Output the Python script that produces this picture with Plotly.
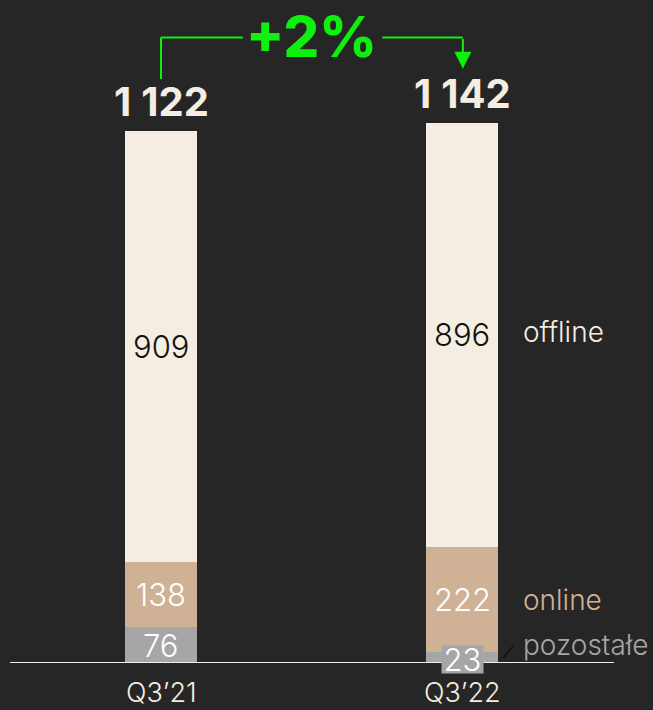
import plotly.graph_objects as go

categories = ["Q3’21", "Q3’22"]
pozostale = [76, 23]
online = [138, 222]
offline = [909, 896]
totals_labels = ["1\u2005122", "1\u2005142"]
change_label = "+2%"
series_names = ["pozostałe", "online", "offline"]

BG = "#262626"
CREAM = "#f5ede1"
TAN = "#cfb296"
GREY = "#a6a6a6"
GREEN = "#0ff00f"
FONT = "Inter"
LIGHT = 300

x = [0, 1]
W = 0.236

fig = go.Figure()
fig.add_trace(go.Bar(x=x, y=pozostale, width=W, marker=dict(color=GREY, line=dict(width=0)),
                     name=series_names[0], showlegend=False, hoverinfo="skip"))
fig.add_trace(go.Bar(x=x, y=online, width=W, marker=dict(color=TAN, line=dict(width=0)),
                     name=series_names[1], showlegend=False, hoverinfo="skip"))
fig.add_trace(go.Bar(x=x, y=offline, width=W, marker=dict(color=CREAM, line=dict(width=0)),
                     name=series_names[2], showlegend=False, hoverinfo="skip"))


def f(size, color, weight=LIGHT):
    return dict(family=FONT, size=size, color=color, weight=weight)


NUM = 31
ann = []
for i in range(2):
    if i == 0:
        ann.append(dict(x=x[i], y=pozostale[i] / 2, text=str(pozostale[i]), showarrow=False,
                        font=f(NUM, "white")))
    else:
        ann.append(dict(x=x[i], y=pozostale[i] / 2 - 4, text=str(pozostale[i]), showarrow=False,
                        font=f(NUM, "white"), bgcolor=GREY,
                        borderpad=0, width=41, height=27))
    ann.append(dict(x=x[i], y=pozostale[i] + online[i] / 2, text=str(online[i]), showarrow=False,
                    font=f(NUM, "white")))
    ann.append(dict(x=x[i], y=pozostale[i] + online[i] + offline[i] / 2, text=str(offline[i]),
                    showarrow=False, font=f(NUM, "#111111")))
    tot = pozostale[i] + online[i] + offline[i]
    ann.append(dict(x=x[i], y=tot, text=totals_labels[i], showarrow=False,
                    yanchor="bottom", yshift=3, font=f(40, CREAM, 700)))
    ann.append(dict(x=x[i], y=0, text=categories[i], showarrow=False, yanchor="top", yshift=-11,
                    font=f(27, CREAM)))

lab_x = (521 - 161) / 301
ann.append(dict(x=lab_x, y=pozostale[1] + online[1] + offline[1] / 2 + 5, text=series_names[2],
                showarrow=False, xanchor="left", font=f(28, CREAM)))
ann.append(dict(x=lab_x, y=pozostale[1] + online[1] / 2 - 2, text=series_names[1],
                showarrow=False, xanchor="left", font=f(28, TAN)))
ann.append(dict(x=lab_x, y=pozostale[1] + 14, text=series_names[0],
                showarrow=False, xanchor="left", font=f(28, GREY)))

ann.append(dict(x=0.5, y=1321, text=change_label, showarrow=False,
                font=f(56, GREEN, 800)))
ann.append(dict(x=1.003, y=1255, ax=1.003, ay=1321, xref="x", yref="y", axref="x", ayref="y",
                text="", showarrow=True, arrowhead=2, arrowsize=1.7, arrowwidth=2,
                arrowcolor=GREEN))

shapes = [
    dict(type="line", xref="paper", yref="y", x0=0, x1=1, y0=0, y1=0,
         line=dict(color=CREAM, width=2)),
    dict(type="line", xref="x", yref="y", x0=0, x1=0, y0=1233, y1=1321,
         line=dict(color=GREEN, width=2)),
    dict(type="line", xref="x", yref="y", x0=0, x1=0.272, y0=1321, y1=1321,
         line=dict(color=GREEN, width=2)),
    dict(type="line", xref="x", yref="y", x0=0.735, x1=1.003, y0=1321, y1=1321,
         line=dict(color=GREEN, width=2)),
    dict(type="line", xref="x", yref="y", x0=1.137, x1=1.173, y0=11, y1=38,
         line=dict(color="#111111", width=1.5)),
]

fig.update_layout(
    barmode="stack",
    width=653, height=710,
    paper_bgcolor=BG, plot_bgcolor=BG,
    margin=dict(l=10, r=39, t=0, b=47),
    xaxis=dict(range=[-0.5017, 1.505], visible=False, fixedrange=True),
    yaxis=dict(range=[0, 1400], visible=False, fixedrange=True),
    annotations=ann,
    shapes=shapes,
    bargap=0,
)

fig.write_html("out.html", config={"displayModeBar": False},
               post_script="document.body.style.margin='0';document.body.style.background='#262626';")
